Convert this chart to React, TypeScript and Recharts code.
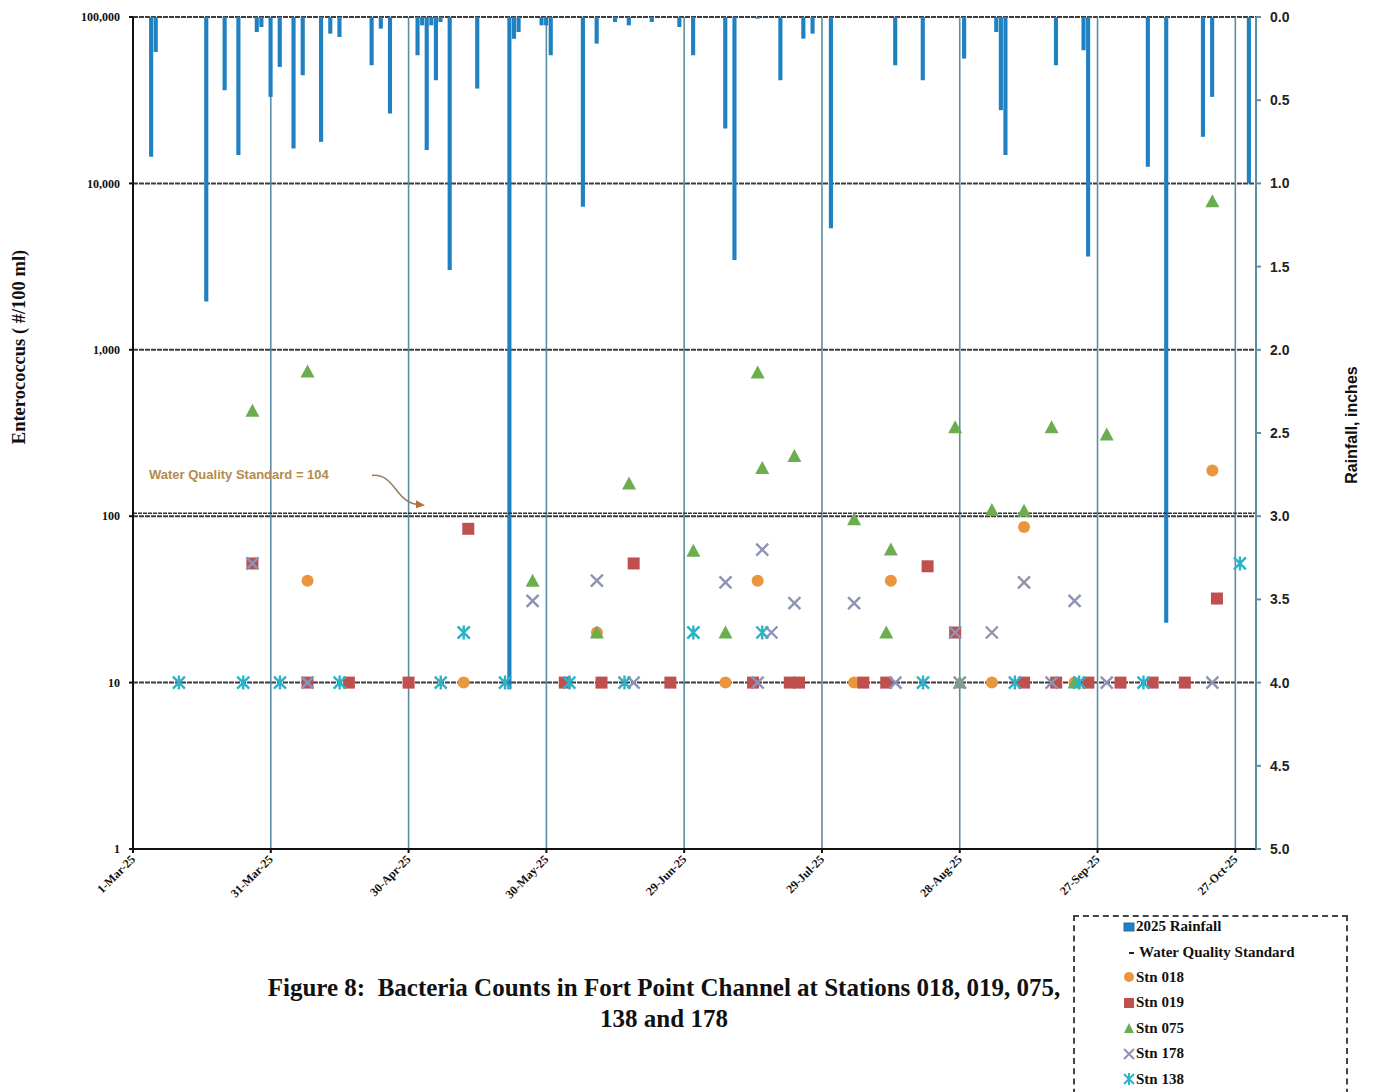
import React from "react";
import {
  ComposedChart,
  Bar,
  Scatter,
  XAxis,
  YAxis,
  CartesianGrid,
  ReferenceLine,
} from "recharts";

// dates are "M/D" in 2025; x axis counts days from 1-Mar-25
const SEASON_START = Date.UTC(2025, 2, 1);
const dayOf = (md: string) => {
  const [m, d] = md.split("/").map(Number);
  return Math.round((Date.UTC(2025, m - 1, d) - SEASON_START) / 86400000);
};

const xTickDates = ["3/1", "3/31", "4/30", "5/30", "6/29", "7/29", "8/28", "9/27", "10/27"];
const xTickLabels = ["1-Mar-25", "31-Mar-25", "30-Apr-25", "30-May-25", "29-Jun-25", "29-Jul-25", "28-Aug-25", "27-Sep-25", "27-Oct-25"];
const countTicks = [1, 10, 100, 1000, 10000, 100000];
const rainTicks = [0, 0.5, 1, 1.5, 2, 2.5, 3, 3.5, 4, 4.5, 5];
const WQS = 104;

const rainDates = [
  "3/5", "3/6", "3/17", "3/21", "3/24", "3/28", "3/29", "3/31", "4/2", "4/5", "4/7", "4/11",
  "4/13", "4/15", "4/22", "4/24", "4/26", "5/2", "5/3", "5/4", "5/5", "5/6", "5/7", "5/9",
  "5/15", "5/22", "5/23", "5/24", "5/29", "5/30", "5/31", "6/7", "6/10", "6/14", "6/17", "6/22",
  "6/28", "7/1", "7/8", "7/10", "7/15", "7/20", "7/25", "7/27", "7/31", "8/14", "8/20", "8/29",
  "9/5", "9/6", "9/7", "9/18", "9/24", "9/25", "10/8", "10/12", "10/20", "10/22", "10/30",
];
const rainInches = [
  0.84, 0.21, 1.71, 0.44, 0.83, 0.09, 0.06, 0.48, 0.3, 0.79, 0.35, 0.75,
  0.1, 0.12, 0.29, 0.07, 0.58, 0.23, 0.05, 0.8, 0.05, 0.38, 0.03, 1.52,
  0.43, 4.04, 0.13, 0.09, 0.05, 0.05, 0.23, 1.14, 0.16, 0.03, 0.05, 0.03,
  0.06, 0.23, 0.67, 1.46, 0.01, 0.38, 0.13, 0.1, 1.27, 0.29, 0.38, 0.25,
  0.09, 0.56, 0.83, 0.29, 0.2, 1.44, 0.9, 3.64, 0.72, 0.48, 1.0,
];

const stn018Dates = ["4/8", "5/12", "6/10", "7/8", "7/15", "8/5", "8/13", "9/4", "9/11", "9/22", "10/22"];
const stn018Values = [41, 10, 20, 10, 41, 10, 41, 10, 86, 10, 188];

const stn019Dates = ["3/27", "4/8", "4/17", "4/30", "5/13", "6/3", "6/11", "6/18", "6/26", "7/14", "7/22", "7/24", "8/7", "8/12", "8/21", "8/27", "9/11", "9/18", "9/25", "10/2", "10/9", "10/16", "10/23"];
const stn019Values = [52, 10, 10, 10, 84, 10, 10, 52, 10, 10, 10, 10, 10, 10, 50, 20, 10, 10, 10, 10, 10, 10, 32];

const stn075Dates = ["3/27", "4/8", "5/27", "6/10", "6/17", "7/1", "7/8", "7/15", "7/16", "7/23", "8/5", "8/12", "8/13", "8/27", "8/28", "9/4", "9/11", "9/17", "9/22", "9/29", "10/22"];
const stn075Values = [430, 740, 41, 20, 157, 62, 20, 730, 195, 230, 96, 20, 63, 342, 10, 109, 108, 342, 10, 310, 7800];

const stn178Dates = ["3/27", "4/8", "5/12", "5/27", "6/10", "6/18", "7/1", "7/8", "7/15", "7/16", "7/18", "7/23", "8/5", "8/14", "8/27", "8/28", "9/4", "9/11", "9/17", "9/22", "9/29", "10/22"];
const stn178Values = [52, 10, 20, 31, 41, 10, 20, 40, 10, 63, 20, 30, 30, 10, 20, 10, 20, 40, 10, 31, 10, 10];

const stn138Dates = ["3/11", "3/25", "4/2", "4/15", "5/7", "5/12", "5/21", "6/4", "6/16", "7/1", "7/16", "8/20", "9/9", "9/23", "10/7", "10/28"];
const stn138Values = [10, 10, 10, 10, 10, 20, 10, 10, 10, 20, 20, 10, 10, 10, 10, 52];

const C_RAIN = "#1f80c2";
const C018 = "#e9963f";
const C019 = "#c0504d";
const C075 = "#6cae4f";
const C178 = "#8d93b5";
const C138 = "#2cb3c8";
const GRID_V = "#5b8ea6";

const rainData = rainDates.map((d, i) => ({ day: dayOf(d), rain: rainInches[i] }));
const toPoints = (dates: string[], values: number[]) =>
  dates.map((d, i) => ({ day: dayOf(d), v: values[i] }));
const xTicks = xTickDates.map(dayOf);

const serif = "'Liberation Serif', 'DejaVu Serif', serif";
const sans = "'Liberation Sans', Arial, sans-serif";

const CircleDot = ({ cx, cy }: any) => <circle cx={cx} cy={cy} r={6} fill={C018} />;
const SquareDot = ({ cx, cy }: any) => (
  <rect x={cx - 6} y={cy - 6} width={12} height={12} fill={C019} />
);
const TriDot = ({ cx, cy }: any) => (
  <polygon points={`${cx},${cy - 7} ${cx + 7},${cy + 6} ${cx - 7},${cy + 6}`} fill={C075} />
);
const CrossDot = ({ cx, cy }: any) => (
  <path
    d={`M${cx - 6},${cy - 6}L${cx + 6},${cy + 6}M${cx - 6},${cy + 6}L${cx + 6},${cy - 6}`}
    stroke={C178}
    strokeWidth={2.4}
  />
);
const StarDot = ({ cx, cy }: any) => (
  <path
    d={`M${cx - 6},${cy - 6}L${cx + 6},${cy + 6}M${cx - 6},${cy + 6}L${cx + 6},${cy - 6}M${cx},${cy - 7}L${cx},${cy + 7}`}
    stroke={C138}
    strokeWidth={2.4}
  />
);

function DateTick({ x, y, payload }: any) {
  const idx = xTicks.indexOf(payload.value);
  const px = x + 3;
  const py = y + 5;
  return (
    <text
      x={px}
      y={py}
      transform={`rotate(-45 ${px} ${py})`}
      textAnchor="end"
      fontSize={12}
      fontWeight="bold"
      fontFamily={serif}
      fill="#111"
    >
      {idx >= 0 ? xTickLabels[idx] : ""}
    </text>
  );
}

function WqsLabel({ viewBox }: any) {
  if (!viewBox) return null;
  const x = viewBox.x;
  const y = viewBox.y;
  return (
    <g>
      <text x={x + 16} y={y - 34} fontSize={13} fontWeight="bold" fontFamily={sans} fill="#b48b4e">
        Water Quality Standard = 104
      </text>
      <path
        d={`M${x + 239},${y - 38} C${x + 262},${y - 40} ${x + 262},${y - 12} ${x + 284},${y - 9}`}
        fill="none"
        stroke="#9a8060"
        strokeWidth={1.6}
      />
      <polygon
        points={`${x + 292},${y - 8} ${x + 283},${y - 13} ${x + 283},${y - 5}`}
        fill="#b0733a"
      />
    </g>
  );
}

const legendItems = [
  { label: "2025 Rainfall", kind: "rain" },
  { label: "Water Quality Standard", kind: "wqs" },
  { label: "Stn 018", kind: "circle" },
  { label: "Stn 019", kind: "square" },
  { label: "Stn 075", kind: "tri" },
  { label: "Stn 178", kind: "cross" },
  { label: "Stn 138", kind: "star" },
];

function LegendIcon({ kind }: { kind: string }) {
  const c = 6;
  let el: React.ReactNode = null;
  if (kind === "rain") el = <rect x={1} y={2} width={10} height={8} fill={C_RAIN} stroke="#2a6fa0" />;
  if (kind === "wqs") el = <line x1={6} y1={7} x2={11} y2={7} stroke="#222" strokeWidth={2} />;
  if (kind === "circle") el = <circle cx={c} cy={c} r={5} fill={C018} />;
  if (kind === "square") el = <rect x={1} y={1} width={10} height={10} fill={C019} />;
  if (kind === "tri") el = <polygon points="6,1 11,11 1,11" fill={C075} />;
  if (kind === "cross") el = <path d="M1,1L11,11M1,11L11,1" stroke={C178} strokeWidth={2} />;
  if (kind === "star") el = <path d="M1,1L11,11M1,11L11,1M6,0L6,12" stroke={C138} strokeWidth={2} />;
  return (
    <svg width={12} height={12} style={{ marginRight: kind === "wqs" ? 4 : 1, flex: "none" }}>
      {el}
    </svg>
  );
}

export default function App() {
  return (
    <div
      style={{
        position: "absolute",
        left: 0,
        top: 0,
        width: 1376,
        height: 1092,
        overflow: "hidden",
        background: "#fff",
        fontFamily: serif,
      }}
    >
      <ComposedChart
        width={1376}
        height={900}
        data={rainData}
        margin={{ top: 17, right: 70, bottom: 6, left: 53 }}
      >
        <CartesianGrid
          yAxisId="left"
          vertical={false}
          stroke="#3c3c3c"
          strokeWidth={2}
          strokeDasharray="5 1"
        />
        <CartesianGrid
          yAxisId="left"
          horizontal={false}
          stroke={GRID_V}
          strokeWidth={1.6}
        />
        <XAxis
          dataKey="day"
          type="number"
          domain={[0, 244.5]}
          ticks={xTicks}
          tick={<DateTick />}
          tickSize={4}
          height={45}
          interval={0}
          stroke="#111"
          strokeWidth={2}
        />
        <YAxis
          yAxisId="left"
          orientation="left"
          type="number"
          scale="log"
          domain={[1, 100000]}
          allowDataOverflow
          ticks={countTicks}
          tickFormatter={(v: number) => v.toLocaleString("en-US")}
          tick={{ fontSize: 12, fontWeight: "bold", fontFamily: serif, fill: "#111" }}
          tickSize={4}
          tickMargin={9}
          width={80}
          interval={0}
          stroke="#111"
          strokeWidth={2}
        />
        <YAxis
          yAxisId="right"
          orientation="right"
          type="number"
          domain={[0, 5]}
          reversed
          ticks={rainTicks}
          tickFormatter={(v: number) => v.toFixed(1)}
          tick={{ fontSize: 14, fontWeight: "bold", fontFamily: sans, fill: "#222" }}
          tickSize={5}
          tickMargin={9}
          width={50}
          interval={0}
          stroke={GRID_V}
          strokeWidth={2}
        />
        <ReferenceLine
          yAxisId="left"
          y={WQS}
          stroke="#333"
          strokeWidth={1.5}
          strokeDasharray="4 1"
          label={(props: any) => <WqsLabel {...props} />}
        />
        <Bar
          yAxisId="right"
          dataKey="rain"
          fill={C_RAIN}
          barSize={5}
          isAnimationActive={false}
        />
        <Scatter yAxisId="left" data={toPoints(stn018Dates, stn018Values)} dataKey="v" shape={<CircleDot />} isAnimationActive={false} />
        <Scatter yAxisId="left" data={toPoints(stn019Dates, stn019Values)} dataKey="v" shape={<SquareDot />} isAnimationActive={false} />
        <Scatter yAxisId="left" data={toPoints(stn075Dates, stn075Values)} dataKey="v" shape={<TriDot />} isAnimationActive={false} />
        <Scatter yAxisId="left" data={toPoints(stn178Dates, stn178Values)} dataKey="v" shape={<CrossDot />} isAnimationActive={false} />
        <Scatter yAxisId="left" data={toPoints(stn138Dates, stn138Values)} dataKey="v" shape={<StarDot />} isAnimationActive={false} />
      </ComposedChart>

      <div
        style={{
          position: "absolute",
          left: 19,
          top: 347,
          transform: "translate(-50%, -50%) rotate(-90deg)",
          whiteSpace: "nowrap",
          fontFamily: serif,
          fontWeight: "bold",
          fontSize: 18.5,
          color: "#111",
        }}
      >
        Enterococcus ( #/100 ml)
      </div>
      <div
        style={{
          position: "absolute",
          left: 1352,
          top: 425,
          transform: "translate(-50%, -50%) rotate(-90deg)",
          whiteSpace: "nowrap",
          fontFamily: sans,
          fontWeight: "bold",
          fontSize: 16,
          color: "#111",
        }}
      >
        Rainfall, inches
      </div>

      <div
        style={{
          position: "absolute",
          left: 164,
          width: 1000,
          top: 972,
          textAlign: "center",
          fontFamily: serif,
          fontWeight: "bold",
          fontSize: 25,
          lineHeight: "31px",
          color: "#111",
        }}
      >
        Figure 8:&nbsp; Bacteria Counts in Fort Point Channel at Stations 018, 019, 075,
        <br />
        138 and 178
      </div>

      <div
        style={{
          position: "absolute",
          left: 1073,
          top: 915,
          width: 275,
          height: 190,
          border: "2px dashed #444",
          boxSizing: "border-box",
          paddingLeft: 48,
        }}
      >
        <div style={{ position: "relative", top: -3 }}>
          {legendItems.map((it) => (
            <div
              key={it.label}
              style={{
                display: "flex",
                alignItems: "center",
                height: 25.4,
                fontFamily: serif,
                fontWeight: "bold",
                fontSize: 15,
                color: "#111",
                whiteSpace: "nowrap",
              }}
            >
              <LegendIcon kind={it.kind} />
              {it.label}
            </div>
          ))}
        </div>
      </div>
    </div>
  );
}
